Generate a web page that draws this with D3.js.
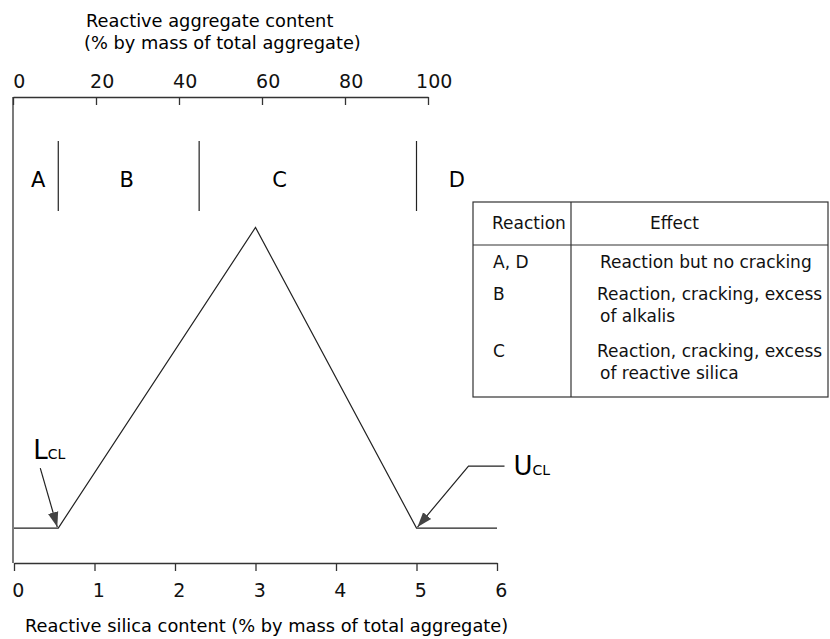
<!DOCTYPE html>
<meta charset="utf-8">
<style>
body { margin: 0; background: #fff; }
svg { font-family: 'DejaVu Sans', Verdana, sans-serif; }
.axis path, .axis line { stroke: #333; stroke-width: 1.3px; }
.axis text { font-size: 19px; fill: #111; font-family: 'DejaVu Sans', sans-serif; }
.curve { fill: none; stroke: #222; stroke-width: 1.2px; }
.zone { stroke: #222; stroke-width: 1.2px; }
.tbl line, .tbl rect { stroke: #333; stroke-width: 1.2px; fill: none; }
.tbl text { font-size: 17px; fill: #111; }
</style>
<body>
<script src="https://cdnjs.cloudflare.com/ajax/libs/d3/7.8.5/d3.min.js"></script>
<script>
// data
var silicaTicks = [0, 1, 2, 3, 4, 5, 6];
var aggregateTicks = [0, 20, 40, 60, 80, 100];
var zoneBounds = [0.55, 2.3, 5.0];
var zoneNames = ["A", "B", "C", "D"];
var zoneLabelAt = [0.3, 1.4, 3.3, 5.5];
var curveSilica = [0, 0.55, 3, 5, 6];
var curveExpansion = [7.5, 7.5, 72, 7.5, 7.5];
var reactions = ["A, D", "B", "C"];
var effects = [["Reaction but no cracking"],
               ["Reaction, cracking, excess", "of alkalis"],
               ["Reaction, cracking, excess", "of reactive silica"]];

var svg = d3.select("body").append("svg")
    .attr("width", 830)
    .attr("height", 639);

var x = d3.scaleLinear().domain([0, 6]).range([14, 497]),
    xTop = d3.scaleLinear().domain([0, 100]).range([13, 428]),
    y = d3.scaleLinear().domain([0, 100]).range([563, 97]);

svg.append("defs").append("marker")
    .attr("id", "head")
    .attr("viewBox", "0 0 10 10")
    .attr("refX", 10).attr("refY", 5)
    .attr("markerWidth", 15).attr("markerHeight", 15)
    .attr("markerUnits", "userSpaceOnUse")
    .attr("orient", "auto")
  .append("path")
    .attr("d", "M0,1.5 L10,5 L0,8.5 Z")
    .attr("fill", "#444");

// axes
svg.append("g")
    .attr("class", "axis")
    .attr("transform", "translate(0," + y(0) + ")")
    .call(d3.axisBottom(x).tickValues(silicaTicks).tickFormat(d3.format("d"))
      .tickSizeInner(8).tickSizeOuter(0).tickPadding(13))
    .selectAll("text").attr("dx", "0.2em");

svg.append("g")
    .attr("class", "axis")
    .attr("transform", "translate(0," + y(100) + ")")
    .call(d3.axisTop(xTop).tickValues(aggregateTicks).tickSizeInner(-8).tickSizeOuter(0).tickPadding(9))
    .selectAll("text").attr("dx", "0.3em");

svg.append("line")
    .attr("x1", x(0) - 1).attr("x2", x(0) - 1)
    .attr("y1", y(100)).attr("y2", y(0))
    .style("stroke", "#333").style("stroke-width", "1.3px");

svg.append("text")
    .attr("x", 86).attr("y", 27)
    .style("font-size", "17.8px")
    .text("Reactive aggregate content");
svg.append("text")
    .attr("x", 84).attr("y", 49)
    .style("font-size", "17.8px")
    .text("(% by mass of total aggregate)");
svg.append("text")
    .attr("x", 25).attr("y", 632)
    .style("font-size", "17.8px")
    .text("Reactive silica content (% by mass of total aggregate)");

// zones
svg.selectAll(".zone-line")
  .data(zoneBounds)
  .enter().append("line")
    .attr("class", "zone")
    .attr("x1", function(d) { return x(d); })
    .attr("x2", function(d) { return x(d); })
    .attr("y1", 141).attr("y2", 211);

svg.selectAll(".zone-label")
  .data(zoneNames)
  .enter().append("text")
    .attr("x", function(d, i) { return x(zoneLabelAt[i]); })
    .attr("y", 187)
    .attr("text-anchor", "middle")
    .style("font-size", "21px")
    .text(function(d) { return d; });

// curve
var line = d3.line()
    .x(function(d) { return x(d[0]); })
    .y(function(d) { return y(d[1]); });

svg.append("path")
    .datum(d3.zip(curveSilica, curveExpansion))
    .attr("class", "curve")
    .attr("d", line);

// limit annotations
var lx = x(curveSilica[1]), ly = y(curveExpansion[1]);
svg.append("path")
    .attr("d", "M" + (lx - 18) + "," + (ly - 60) + "L" + (lx - 1) + "," + (ly - 1))
    .attr("class", "curve")
    .attr("marker-end", "url(#head)");
var lt = svg.append("text").attr("x", lx - 25).attr("y", ly - 69);
lt.append("tspan").style("font-size", "26px").text("L");
lt.append("tspan").style("font-size", "14px").text("CL");

var ux = x(curveSilica[3]), uy = y(curveExpansion[3]);
svg.append("path")
    .attr("d", "M" + (ux + 88) + "," + (uy - 62) + "H" + (ux + 52) + "L" + (ux + 1) + "," + (uy - 1))
    .attr("class", "curve")
    .attr("marker-end", "url(#head)");
var ut = svg.append("text").attr("x", ux + 97).attr("y", uy - 53);
ut.append("tspan").style("font-size", "26px").text("U");
ut.append("tspan").style("font-size", "14px").text("CL");

// table
var tbl = svg.append("g").attr("class", "tbl");
tbl.append("rect").attr("x", 473).attr("y", 202).attr("width", 355).attr("height", 195);
tbl.append("line").attr("x1", 571).attr("x2", 571).attr("y1", 202).attr("y2", 397);
tbl.append("line").attr("x1", 473).attr("x2", 828).attr("y1", 245).attr("y2", 245);
tbl.append("text").attr("x", 492).attr("y", 229).text("Reaction");
tbl.append("text").attr("x", 650).attr("y", 229).text("Effect");

var rowY = [268, 300, 357];
tbl.selectAll(".r")
  .data(reactions)
  .enter().append("text")
    .attr("x", 493)
    .attr("y", function(d, i) { return rowY[i]; })
    .text(function(d) { return d; });

tbl.selectAll(".e")
  .data(effects)
  .enter().append("text")
    .attr("x", 598)
    .attr("y", function(d, i) { return rowY[i]; })
    .each(function(d, i) {
      d3.select(this).selectAll("tspan")
        .data(d)
        .enter().append("tspan")
          .attr("x", function(t, j) { return i === 0 ? 600 : (j === 0 ? 597 : 600); })
          .attr("dy", function(t, j) { return j === 0 ? 0 : 22; })
          .text(function(t) { return t; });
    });
</script>
</body>
